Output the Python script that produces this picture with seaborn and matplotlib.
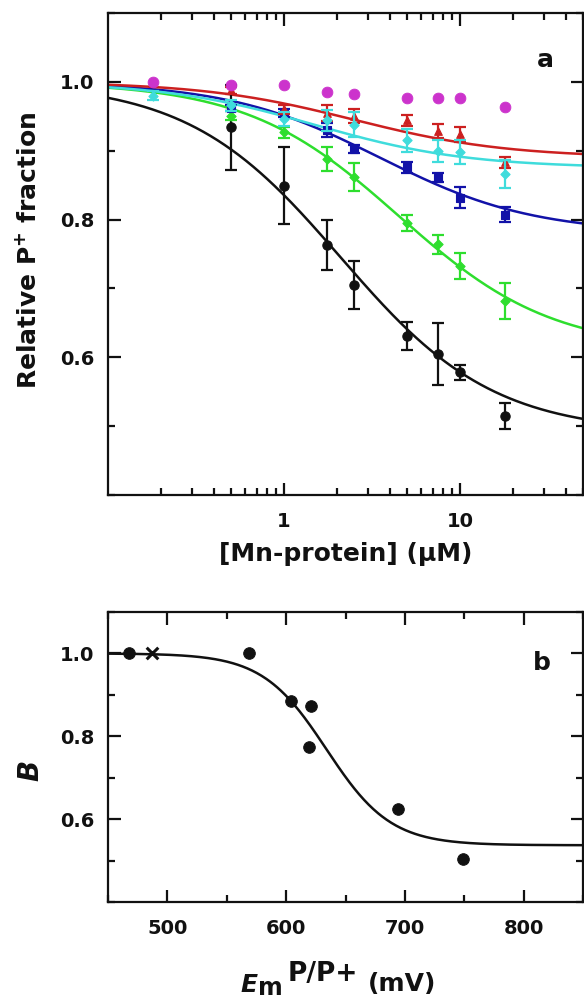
import numpy as np
import pandas as pd
import matplotlib
matplotlib.use("Agg")
import matplotlib.pyplot as plt
import seaborn as sns
from matplotlib.ticker import FixedLocator, LogLocator, NullFormatter, MultipleLocator

# ---------------- panel a data ----------------
conc_main = [0.5, 1, 1.75, 2.5, 5, 7.5, 10, 18]
conc_full = [0.18, 0.5, 1, 1.75, 2.5, 5, 7.5, 10, 18]

frac_black = [0.934, 0.849, 0.763, 0.705, 0.631, 0.605, 0.578, 0.515]
err_black = [0.062, 0.056, 0.036, 0.035, 0.020, 0.045, 0.011, 0.019]

frac_green = [0.951, 0.927, 0.888, 0.862, 0.795, 0.764, 0.732, 0.682]
err_green = [0.006, 0.008, 0.018, 0.020, 0.012, 0.014, 0.019, 0.026]

frac_blue = [0.962, 0.955, 0.930, 0.902, 0.876, 0.861, 0.832, 0.807]
err_blue = [0.005, 0.006, 0.010, 0.006, 0.008, 0.006, 0.015, 0.011]

frac_red = [0.988, 0.960, 0.955, 0.950, 0.944, 0.929, 0.924, 0.883]
err_red = [0.005, 0.006, 0.012, 0.010, 0.008, 0.010, 0.011, 0.008]

frac_cyan = [0.980, 0.966, 0.946, 0.944, 0.938, 0.915, 0.900, 0.898, 0.866]
err_cyan = [0.006, 0.008, 0.010, 0.015, 0.018, 0.017, 0.016, 0.018, 0.020]

frac_magenta = [1.000, 0.995, 0.996, 0.985, 0.983, 0.976, 0.977, 0.977, 0.963]

# fitted binding curves: y = 1 - amplitude * x / (Kd + x)
fit_amp = {"black": 0.51, "green": 0.39, "blue": 0.22, "red": 0.11, "cyan": 0.125}
fit_kd = {"black": 2.1, "green": 4.5, "blue": 3.5, "red": 2.5, "cyan": 1.5}

xticks_a = [1, 10]
xticklabels_a = ["1", "10"]
yticks_a = [0.6, 0.8, 1.0]
yticklabels_a = ["0.6", "0.8", "1.0"]

# ---------------- panel b data ----------------
em_values = [468, 569, 604, 619, 621, 694, 749]
b_values = [1.000, 1.000, 0.884, 0.774, 0.874, 0.624, 0.504]
cross_em = [487]
cross_b = [1.000]
# Nernst-type fit: B = Bmin + (1 - Bmin) / (1 + exp((E - E0)/k))
fit_bmin, fit_e0, fit_k = 0.537, 634.0, 27.0

xticks_b = [500, 600, 700, 800]
yticks_b = [0.6, 0.8, 1.0]
yticklabels_b = ["0.6", "0.8", "1.0"]

# ---------------- styling ----------------
sns.set_theme(style="ticks")
plt.rcParams["font.family"] = ["DejaVu Sans"]
plt.rcParams["font.weight"] = "bold"
plt.rcParams["axes.labelweight"] = "bold"
plt.rcParams["mathtext.default"] = "bf"
plt.rcParams["axes.linewidth"] = 1.6
plt.rcParams["text.color"] = "#111111"
plt.rcParams["axes.labelcolor"] = "#111111"
plt.rcParams["xtick.color"] = "#111111"
plt.rcParams["ytick.color"] = "#111111"

colors = {"black": "#111111", "green": "#2ede2e", "blue": "#1212a8",
          "red": "#cc2020", "cyan": "#3fdcdc", "magenta": "#cc33cc"}
markers = {"black": "o", "green": "D", "blue": "s", "red": "^", "cyan": "D"}
msize = {"black": 45, "green": 22, "blue": 28, "red": 30, "cyan": 22}

W, H = 584, 999
fig = plt.figure(figsize=(W / 100, H / 100), dpi=100)
fig.patch.set_facecolor("white")
ax1 = fig.add_axes([108 / W, 1 - 495 / H, 475 / W, 482 / H])
ax2 = fig.add_axes([108 / W, 1 - 902 / H, 475 / W, 290 / H])

# ---------------- panel a ----------------
ax1.set_xscale("log")
ax1.set_xlim(0.1, 50)
ax1.set_ylim(0.4, 1.1)

series = [
    ("black", conc_main, frac_black, err_black),
    ("green", conc_main, frac_green, err_green),
    ("blue", conc_main, frac_blue, err_blue),
    ("red", conc_main, frac_red, err_red),
    ("cyan", conc_full, frac_cyan, err_cyan),
]

xfit = np.logspace(-1, np.log10(50), 400)
for name, xs, ys, es in series:
    yfit = 1 - fit_amp[name] * xfit / (fit_kd[name] + xfit)
    sns.lineplot(x=xfit, y=yfit, ax=ax1, color=colors[name], lw=1.8,
                 sort=False, estimator=None, zorder=2)
for i, (name, xs, ys, es) in enumerate(series):
    ax1.errorbar(xs, ys, yerr=es, fmt="none", ecolor=colors[name],
                 elinewidth=1.6, capsize=4, capthick=1.6, zorder=3 + i)
    sns.scatterplot(x=xs, y=ys, ax=ax1, marker=markers[name], s=msize[name],
                    color=colors[name], edgecolor=colors[name], linewidth=0.8,
                    zorder=3 + i)
sns.scatterplot(x=conc_full, y=frac_magenta, ax=ax1, marker="o", s=60,
                color=colors["magenta"], edgecolor=colors["magenta"], zorder=10)

ax1.xaxis.set_major_locator(FixedLocator(xticks_a))
ax1.set_xticklabels(xticklabels_a)
ax1.xaxis.set_minor_locator(LogLocator(base=10, subs=np.arange(2, 10), numticks=20))
ax1.xaxis.set_minor_formatter(NullFormatter())
ax1.set_yticks(yticks_a)
ax1.set_yticklabels(yticklabels_a)
ax1.yaxis.set_minor_locator(MultipleLocator(0.1))

ax1.set_xlabel("[Mn-protein] (\u03bcM)", fontsize=18, fontweight="bold", va="center")
ax1.xaxis.set_label_coords(0.5, -0.122)
ax1.set_ylabel(r"Relative P$^{+}$ fraction", fontsize=18, fontweight="bold", va="center")
ax1.yaxis.set_label_coords(-0.168, 0.508)
ax1.text(0.92, 0.9025, "a", transform=ax1.transAxes, fontsize=18,
         fontweight="bold", ha="center", va="center")

# ---------------- panel b ----------------
ax2.set_xlim(450, 850)
ax2.set_ylim(0.4, 1.1)
efit = np.linspace(450, 850, 400)
bfit = fit_bmin + (1 - fit_bmin) / (1 + np.exp((efit - fit_e0) / fit_k))
sns.lineplot(x=efit, y=bfit, ax=ax2, color="#111111", lw=1.8,
             sort=False, estimator=None, zorder=2)
sns.scatterplot(x=em_values, y=b_values, ax=ax2, marker="o", s=70,
                color="#111111", edgecolor="#111111", zorder=4)
sns.scatterplot(x=cross_em, y=cross_b, ax=ax2, marker="x", s=70,
                color="#111111", linewidth=2.2, zorder=4)

ax2.set_xticks(xticks_b)
ax2.xaxis.set_minor_locator(MultipleLocator(50))
ax2.set_yticks(yticks_b)
ax2.set_yticklabels(yticklabels_b)
ax2.yaxis.set_minor_locator(MultipleLocator(0.1))
ax2.set_xlabel("")
ax2.set_ylabel("B", fontsize=20, fontweight="bold", fontstyle="italic", va="center")
ax2.yaxis.set_label_coords(-0.164, 0.452)
ax2.text(0.914, 0.824, "b", transform=ax2.transAxes, fontsize=18,
         fontweight="bold", ha="center", va="center")

for ax in (ax1, ax2):
    ax.tick_params(which="both", direction="in", top=True, right=True,
                   width=1.6, colors="#111111")
    ax.tick_params(which="major", length=9, labelsize=14, pad=12)
    ax.tick_params(which="minor", length=5)
    ax.tick_params(axis="y", which="major", pad=10)
    for sp in ax.spines.values():
        sp.set_color("#111111")
        sp.set_linewidth(1.6)
    ax.grid(False)
    ax.set_facecolor("white")
    for lab in ax.get_xticklabels() + ax.get_yticklabels():
        lab.set_fontweight("bold")

# composite x label for panel b:  E_m  P/P+ (mV)
def ftext(px, py, s, **kw):
    fig.text(px / W, 1 - py / H, s, ha="left", va="baseline", color="#111111", **kw)

ftext(240, 992, "E", fontsize=18, fontweight="bold", fontstyle="italic")
ftext(258, 995, "m", fontsize=17, fontweight="bold")
ftext(288, 981, "P/P+", fontsize=19, fontweight="bold")
ftext(368, 991, "(mV)", fontsize=18, fontweight="bold")

fig.savefig("out.png", dpi=100, facecolor="white")
